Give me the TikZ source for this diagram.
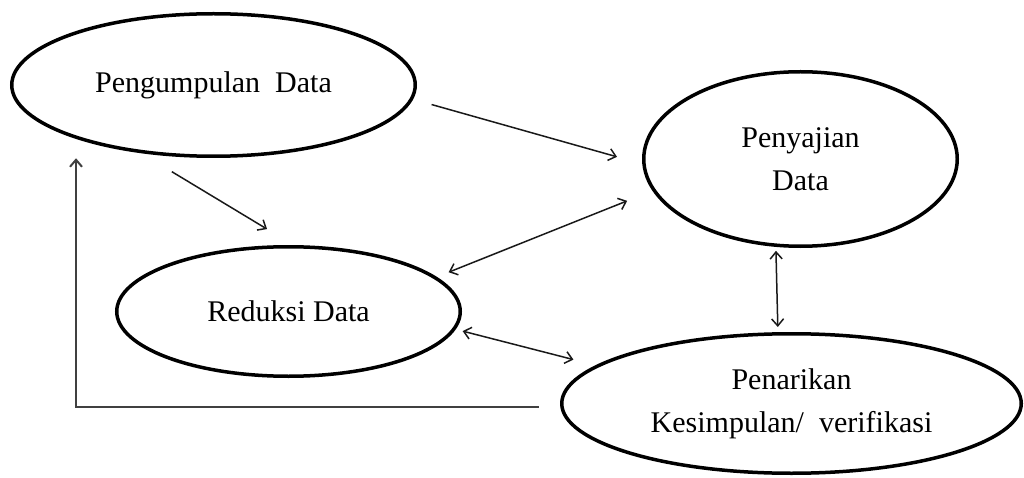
\documentclass[tikz,border=0pt]{standalone}
\usepackage{fontspec}
\setmainfont{Liberation Serif}
\usetikzlibrary{shapes.geometric,arrows.meta}
\tikzset{
  stage/.style={draw,ellipse,line width=3.5pt,inner sep=0pt,outer sep=0pt,
    align=center,font=\fontsize{30}{43}\selectfont},
  link/.style={line width=1.5pt,black!90,>={Straight Barb[length=7pt,width=12pt]}},
  feedback/.style={line width=2pt,black!75,->,>={Straight Barb[length=7pt,width=12pt]}}
}
\begin{document}
\begin{tikzpicture}[x=1pt,y=-1pt]
  \useasboundingbox (0,0) rectangle (1024,478);
  \node[stage,minimum width=403.5pt,minimum height=142.5pt] (pengumpulan) at (213.5,85) {Pengumpulan\ \ Data};
  \node[stage,minimum width=313.5pt,minimum height=174.5pt] (penyajian) at (800.5,159) {Penyajian\\Data};
  \node[stage,minimum width=343.5pt,minimum height=129.5pt] (reduksi) at (288.5,311.5) {Reduksi Data};
  \node[stage,minimum width=459.5pt,minimum height=139.5pt] (penarikan) at (791.5,403.5) {Penarikan\\Kesimpulan/\ \ verifikasi};
  \draw[link,->,shorten <=21pt,shorten >=28.1pt] (pengumpulan.-4.8) -- (penyajian.182.3);
  \draw[link,->,shorten <=40pt,shorten >=34.3pt] (pengumpulan.221.6) -- (reduksi.83.1);
  \draw[link,<->,shorten <=14.7pt,shorten >=29pt] (reduksi.13.2) -- (penyajian.192.6);
  \draw[link,<->,shorten <=9pt,shorten >=25.4pt] (reduksi.-6.3) -- (penarikan.169.7);
  \draw[link,<->,shorten <=5.7pt,shorten >=6.9pt] (penyajian.254.8) -- (penarikan.101.8);
  \draw[feedback,shorten <=23pt] ([yshift=-3.5pt]penarikan.west) -| ([xshift=-137.5pt,yshift=-2pt]pengumpulan.south);
\end{tikzpicture}
\end{document}
